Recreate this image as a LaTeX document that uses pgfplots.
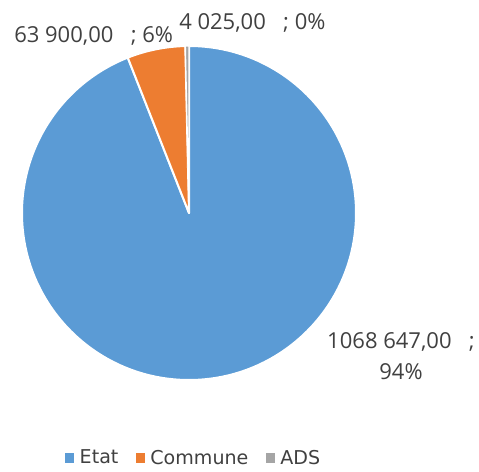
\documentclass[border=0pt]{standalone}
\usepackage{pgfplots}
\pgfplotsset{compat=1.18}
\usepackage{pgfplotstable}
\usepackage{fontspec}
\setmainfont{Open Sans}
\newfontfamily\legfont{DejaVu Sans}
\definecolor{cEtat}{HTML}{5B9BD5}
\definecolor{cCommune}{HTML}{ED7D31}
\definecolor{cADS}{HTML}{A5A5A5}
\definecolor{txt}{HTML}{404040}

\pgfplotstableread{
name value
Etat 1068647
Commune 63900
ADS 4025
}\piedata

\pgfplotstablegetelem{0}{value}\of\piedata \edef\vA{\pgfplotsretval}
\pgfplotstablegetelem{1}{value}\of\piedata \edef\vB{\pgfplotsretval}
\pgfplotstablegetelem{2}{value}\of\piedata \edef\vC{\pgfplotsretval}
\edef\total{\fpeval{\vA+\vB+\vC}}
\edef\aA{\fpeval{round(90-360*\vA/\total,4)}}
\edef\aB{\fpeval{round(\aA-360*\vB/\total,4)}}
\edef\aC{\fpeval{round(\aB-360*\vC/\total,4)}}
\def\R{125.25pt}

\begin{document}
\begin{tikzpicture}
\begin{axis}[
  x=0.75pt, y=0.75pt,
  xmin=0, xmax=479, ymin=0, ymax=468,
  hide axis, clip=false,
  legend columns=3,
  legend image code/.code={\fill[#1, draw=none] (0pt,-3.4pt) rectangle (6.8pt,3.4pt); \path[draw=none, fill=none] (0pt,0pt) -- (9pt,0pt);},
  legend style={at={(axis cs:194,10)}, anchor=center, draw=none, fill=none,
    font=\legfont\fontsize{14.3}{16}\selectfont, text=txt,
    /tikz/every even column/.append style={column sep=11pt},
    /tikz/every odd column/.append style={column sep=0pt}},
]
\path (axis cs:0,0) rectangle (axis cs:479,468);
\fill[cEtat, draw=white, line width=1.5pt, line join=round]
  (axis cs:189,255) -- ++(90:\R) arc[start angle=90, end angle=\aA, radius=\R] -- cycle;
\fill[cCommune, draw=white, line width=1.5pt, line join=round]
  (axis cs:189,255) -- ++(\aA:\R) arc[start angle=\aA, end angle=\aB, radius=\R] -- cycle;
\fill[cADS, draw=white, line width=1.0pt, line join=round]
  (axis cs:189,255) -- ++(\aB:\R) arc[start angle=\aB, end angle=\aC, radius=\R] -- cycle;

\addlegendimage{fill=cEtat}\addlegendentry{Etat}
\addlegendimage{fill=cCommune}\addlegendentry{Commune}
\addlegendimage{fill=cADS}\addlegendentry{ADS}

\node[anchor=west, inner sep=0pt, text=txt, font=\fontsize{16.5}{18}\selectfont]
  at (axis cs:14,432) {63 900,00\hspace{13pt}; 6\%};
\node[anchor=west, inner sep=0pt, text=txt, font=\fontsize{16.5}{18}\selectfont]
  at (axis cs:179,445) {4 025,00\hspace{13pt}; 0\%};
\node[anchor=center, inner sep=0pt, text=txt, align=center, font=\fontsize{16.5}{23.25}\selectfont]
  at (axis cs:401,111.5) {1068 647,00\hspace{13pt};\\94\%};
\end{axis}
\end{tikzpicture}
\end{document}
